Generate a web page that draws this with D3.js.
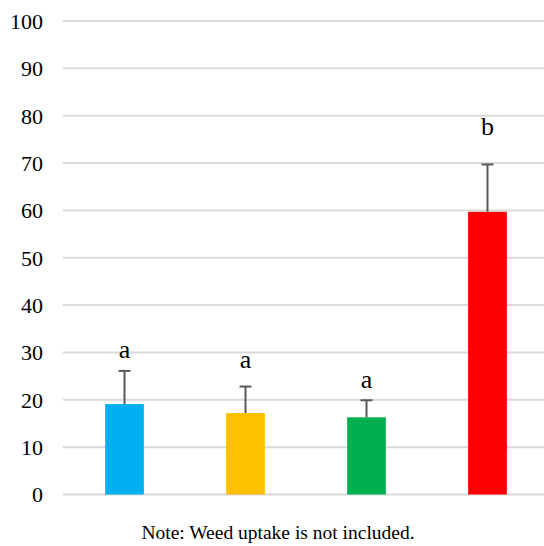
<!DOCTYPE html>
<html>
<head>
<meta charset="utf-8">
<script src="https://cdn.jsdelivr.net/npm/d3@7"></script>
<style>
  html, body { margin: 0; padding: 0; background: #fff; }
  svg { display: block; }
</style>
</head>
<body>
<svg id="chart" width="544" height="546"></svg>
<script>
// Treatment groups, mean values, upper error and significance letters
const groups = ["T1", "T2", "T3", "T4"];
const means = [19.1, 17.2, 16.3, 59.7];
const errorTops = [26.1, 22.8, 19.9, 69.7];
const letters = ["a", "a", "a", "b"];
const letterLevels = [28.8, 26.7, 22.5, 75.9];
const colors = ["#00b0f0", "#ffc000", "#00b050", "#ff0000"];
const yTicks = [0, 10, 20, 30, 40, 50, 60, 70, 80, 90, 100];
const note = "Note: Weed uptake is not included.";

const svg = d3.select("#chart");
const font = "'Liberation Serif', 'Times New Roman', serif";

const x = d3.scaleBand().domain(groups).range([64, 548]).paddingInner(0.68).paddingOuter(0.34);
const y = d3.scaleLinear().domain([0, 100]).range([494.5, 21]);

// Horizontal gridlines
svg.append("g").selectAll("line").data(yTicks).join("line")
  .attr("x1", 63).attr("x2", 544)
  .attr("y1", d => y(d)).attr("y2", d => y(d))
  .attr("stroke", "#d9d9d9").attr("stroke-width", 2);

// Y axis labels
const yAxis = d3.axisLeft(y).tickValues(yTicks).tickSize(0).tickPadding(0);
const ax = svg.append("g").attr("transform", "translate(43,0)").call(yAxis);
ax.select(".domain").remove();
ax.selectAll("text")
  .attr("font-family", font).attr("font-size", 22).attr("fill", "#000")
  .attr("dy", "0.34em");

// Bars
svg.append("g").selectAll("rect").data(groups).join("rect")
  .attr("x", d => x(d))
  .attr("width", x.bandwidth())
  .attr("y", (d, i) => y(means[i]))
  .attr("height", (d, i) => y(0) - y(means[i]))
  .attr("fill", (d, i) => colors[i]);

// Error bars (upper only)
const eb = svg.append("g").attr("stroke", "#595959").attr("stroke-width", 2);
groups.forEach((g, i) => {
  const cx = x(g) + x.bandwidth() / 2;
  eb.append("line").attr("x1", cx).attr("x2", cx)
    .attr("y1", y(means[i])).attr("y2", y(errorTops[i]));
  eb.append("line").attr("x1", cx - 6).attr("x2", cx + 6)
    .attr("y1", y(errorTops[i])).attr("y2", y(errorTops[i]));
});

// Significance letters
svg.append("g").selectAll("text").data(groups).join("text")
  .attr("x", d => x(d) + x.bandwidth() / 2)
  .attr("y", (d, i) => y(letterLevels[i]))
  .attr("text-anchor", "middle")
  .attr("font-family", font).attr("font-size", 26)
  .text((d, i) => letters[i]);

// Footnote
svg.append("text")
  .attr("x", 278).attr("y", 539)
  .attr("text-anchor", "middle")
  .attr("font-family", font).attr("font-size", 19.5)
  .text(note);
</script>
</body>
</html>
